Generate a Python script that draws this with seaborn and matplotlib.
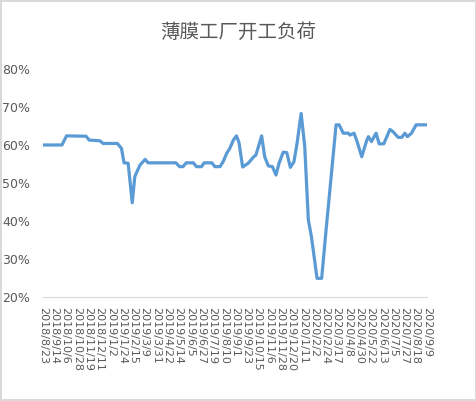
import numpy as np
import pandas as pd
import matplotlib
matplotlib.use("Agg")
import matplotlib.pyplot as plt
from matplotlib.ticker import PercentFormatter
import seaborn as sns

# operating load of film factories
dates = ["2018-08-23", "2018-09-29", "2018-10-08", "2018-11-15", "2018-11-21",
         "2018-12-12", "2018-12-18", "2019-01-15", "2019-01-23", "2019-01-28",
         "2019-02-05", "2019-02-13", "2019-02-18", "2019-02-28", "2019-03-10",
         "2019-03-16", "2019-05-09", "2019-05-16", "2019-05-23", "2019-05-29",
         "2019-06-12", "2019-06-18", "2019-06-28", "2019-07-03", "2019-07-18",
         "2019-07-24", "2019-08-03", "2019-08-09", "2019-08-16", "2019-08-22",
         "2019-08-29", "2019-09-04", "2019-09-09", "2019-09-16", "2019-09-27",
         "2019-10-07", "2019-10-12", "2019-10-23", "2019-10-29", "2019-11-05",
         "2019-11-13", "2019-11-20", "2019-11-26", "2019-12-04", "2019-12-11",
         "2019-12-18", "2019-12-25", "2019-12-31", "2020-01-08", "2020-01-15",
         "2020-01-22", "2020-01-28", "2020-02-08", "2020-02-17", "2020-02-25",
         "2020-03-04", "2020-03-16", "2020-03-22", "2020-03-30", "2020-04-09",
         "2020-04-12", "2020-04-20", "2020-04-26", "2020-05-05", "2020-05-15",
         "2020-05-18", "2020-05-24", "2020-06-02", "2020-06-08", "2020-06-17",
         "2020-06-29", "2020-07-05", "2020-07-15", "2020-07-22", "2020-07-28",
         "2020-08-02", "2020-08-10", "2020-08-19", "2020-09-09"]
load = [60.0, 60.0, 62.4, 62.3, 61.3,
        61.1, 60.4, 60.4, 59.1, 55.3,
        55.2, 44.8, 51.7, 54.7, 56.2,
        55.3, 55.3, 54.3, 54.3, 55.3,
        55.3, 54.3, 54.3, 55.3, 55.3,
        54.3, 54.3, 55.6, 57.8, 59.1,
        61.3, 62.4, 60.6, 54.2, 55.2,
        56.8, 57.4, 62.4, 56.9, 54.5,
        54.3, 52.1, 55.2, 58.1, 58.0,
        54.1, 55.6, 60.4, 68.3, 59.6,
        40.3, 35.9, 24.9, 24.9, 36.8,
        48.2, 65.3, 65.3, 63.1, 63.1,
        62.6, 63.1, 60.9, 56.9, 61.3,
        62.2, 60.9, 63.1, 60.3, 60.3,
        64.1, 63.5, 62.0, 62.0, 63.1,
        62.2, 63.1, 65.3, 65.3]
title = "薄膜工厂开工负荷"

df = pd.DataFrame({"date": pd.to_datetime(dates), "load": np.array(load) / 100})

sns.set_style("white")
plt.rcParams['font.family'] = ['Noto Sans CJK SC', 'DejaVu Sans']

fig = plt.figure(figsize=(4.77, 4.01), dpi=100)
fig.patch.set_edgecolor("#d9d9d9")
fig.patch.set_linewidth(1.5)
ax = fig.add_axes([0.090, 0.2594, 0.805, 0.5686])

sns.lineplot(data=df, x="date", y="load", ax=ax, color="#5b9bd5", linewidth=2.3)

ax.set_ylim(0.2, 0.8)
ax.set_yticks(np.arange(0.2, 0.81, 0.1))
ax.yaxis.set_major_formatter(PercentFormatter(1.0, decimals=0))

start = pd.Timestamp("2018-08-23")
end = pd.Timestamp("2020-09-09")
ticks = pd.date_range(start, end, freq="22D")
ax.set_xlim(start, end)
ax.set_xticks(ticks)
ax.set_xticklabels([f"{d.year}/{d.month}/{d.day}" for d in ticks],
                   rotation=270, ha="center", va="top", family="DejaVu Sans",
                   fontsize=8)

ax.set_xlabel("")
ax.set_ylabel("")
for s in ["top", "right", "left"]:
    ax.spines[s].set_visible(False)
ax.spines["bottom"].set_color("#d9d9d9")
ax.tick_params(axis="x", length=4, color="#d9d9d9", labelcolor="#595959", pad=3)
ax.tick_params(axis="y", length=0, labelcolor="#595959", labelsize=9, pad=9)
for lab in ax.get_yticklabels():
    lab.set_family("DejaVu Sans")

fig.text(0.5, 0.92, title, ha="center", va="center", fontsize=14,
         color="#595959")

fig.savefig("out.png", dpi=100)
